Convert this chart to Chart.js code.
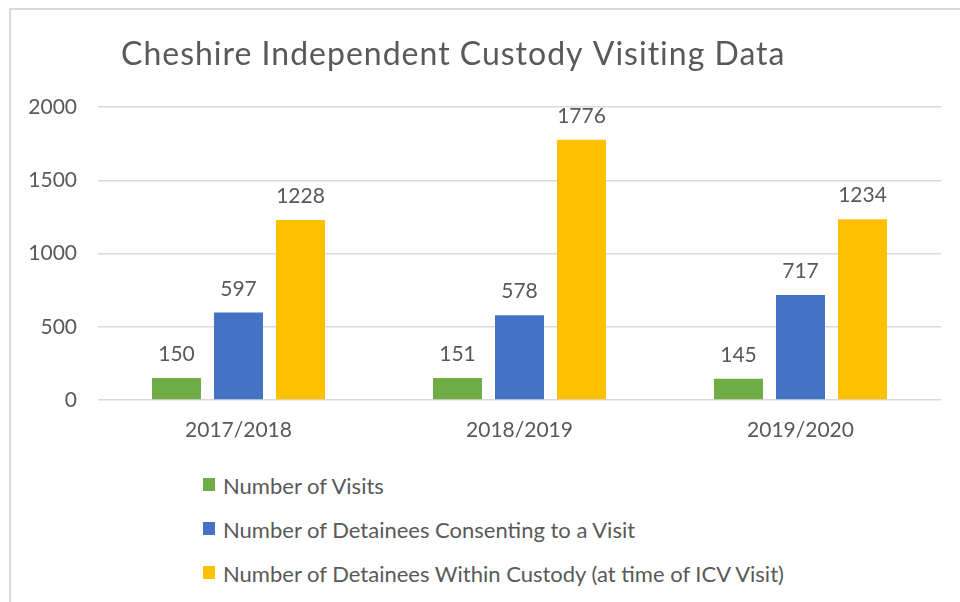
<!DOCTYPE html>
<html>
<head>
<meta charset="utf-8">
<title>Cheshire Independent Custody Visiting Data</title>
<script src="https://cdn.jsdelivr.net/npm/chart.js@4.4.1/dist/chart.umd.min.js"></script>
<style>
    body { margin: 0; background: #fff; font-family: Lato, sans-serif; }
    #page { position: relative; width: 960px; height: 602px; overflow: hidden; }
    #frame {
        position: absolute; left: 9px; top: 8px; width: 1000px; height: 700px;
        border-left: 2px solid #d9d9d9; border-top: 2px solid #d9d9d9;
    }
    #wrap { position: absolute; left: 0; top: 0; width: 960px; height: 460px; }
    #legend { position: absolute; left: 203px; top: 472px; }
    .legend-item { height: 44px; display: flex; align-items: flex-start; color: #595959; font-size: 22px; }
    .legend-box { width: 12px; height: 13px; margin-top: 6px; margin-right: 8px; }
</style>
</head>
<body>
<div id="page">
    <div id="frame"></div>
    <div id="wrap"><canvas id="chart"></canvas></div>
    <div id="legend"></div>
</div>
<script>
// Datos del gráfico
const chartTitle = 'Cheshire Independent Custody Visiting Data';
const years = ['2017/2018', '2018/2019', '2019/2020'];
const seriesNames = [
    'Number of Visits',
    'Number of Detainees Consenting to a Visit',
    'Number of Detainees Within Custody (at time of ICV Visit)'
];
const visits = [150, 151, 145];
const consenting = [597, 578, 717];
const withinCustody = [1228, 1776, 1234];
const yMin = 0;
const yMax = 2000;
const yStep = 500;

const colors = ['#70AD47', '#4472C4', '#FFC000'];
const textColor = '#595959';
const gridColor = '#d9d9d9';

// Título dibujado a mano (alineado a la izquierda como en Excel)
const titlePlugin = {
    id: 'tituloIzq',
    afterDraw(chart) {
        const ctx = chart.ctx;
        ctx.save();
        ctx.font = '32px Lato';
        ctx.letterSpacing = '1px';
        ctx.fillStyle = textColor;
        ctx.textAlign = 'left';
        ctx.textBaseline = 'alphabetic';
        ctx.fillText(chartTitle, 121, 65);
        ctx.restore();
    }
};

// Etiquetas de valor encima de cada barra
const valueLabels = {
    id: 'valueLabels',
    afterDatasetsDraw(chart) {
        const ctx = chart.ctx;
        ctx.save();
        ctx.font = '21px Lato';
        ctx.fillStyle = textColor;
        ctx.textAlign = 'center';
        ctx.textBaseline = 'alphabetic';
        chart.data.datasets.forEach((ds, i) => {
            chart.getDatasetMeta(i).data.forEach((bar, j) => {
                ctx.fillText(ds.data[j], bar.x, bar.y - 17);
            });
        });
        ctx.restore();
    }
};

const ctx = document.getElementById('chart').getContext('2d');
const chart = new Chart(ctx, {
    type: 'bar',
    data: {
        labels: years,
        datasets: [visits, consenting, withinCustody].map((d, i) => ({
            label: seriesNames[i],
            data: d,
            backgroundColor: colors[i],
            borderWidth: 0,
            barPercentage: 0.79,
            categoryPercentage: 0.662
        }))
    },
    options: {
        responsive: true,
        maintainAspectRatio: false,
        animation: false,
        layout: { padding: { top: 107, right: 19, left: 0, bottom: 0 } },
        plugins: {
            legend: { display: false },
            title: { display: false },
            tooltip: { enabled: false }
        },
        scales: {
            x: {
                grid: { display: false, drawTicks: false },
                border: { display: false },
                ticks: { color: textColor, font: { family: 'Lato', size: 21 }, padding: 18 },
                afterFit(scale) { scale.height = 60; }
            },
            y: {
                min: yMin,
                max: yMax,
                ticks: {
                    stepSize: yStep,
                    color: textColor,
                    font: { family: 'Lato', size: 21 },
                    padding: 21,
                    callback: value => String(value)
                },
                grid: { color: gridColor, lineWidth: 1.5, drawTicks: false },
                border: { display: false },
                afterFit(scale) { scale.width = 98; }
            }
        }
    },
    plugins: [titlePlugin, valueLabels]
});

// Leyenda vertical en HTML, generada a partir de los datasets
function listarLeyenda() {
    const contenedor = document.getElementById('legend');
    contenedor.innerHTML = '';
    chart.data.datasets.forEach(ds => {
        const item = document.createElement('div');
        item.className = 'legend-item';
        item.innerHTML = `<span class="legend-box" style="background:${ds.backgroundColor}"></span><span>${ds.label}</span>`;
        contenedor.appendChild(item);
    });
}
listarLeyenda();
</script>
</body>
</html>
